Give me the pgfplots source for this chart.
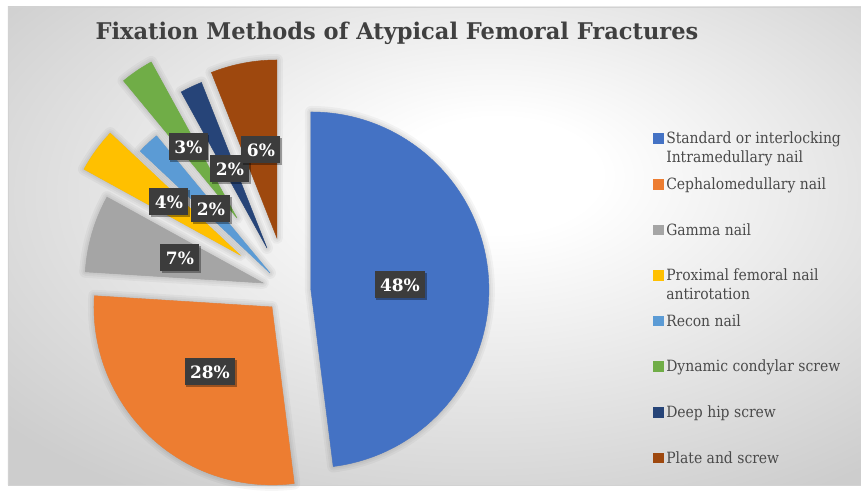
\documentclass[border=0pt]{standalone}
\usepackage{pgfplots}
\pgfplotsset{compat=1.18}
\usepackage{pgfplotstable}
\usepackage{fontspec}
\setmainfont{DejaVu Serif}
\newfontfamily\legfont{DejaVu Serif}[FakeStretch=0.9]
\newfontfamily\titfont{DejaVu Serif}[FakeStretch=0.98]
\newfontfamily\lblfont{DejaVu Serif}
\usetikzlibrary{shadows}

\definecolor{cBlue}{HTML}{4472C4}
\definecolor{cOrange}{HTML}{ED7D31}
\definecolor{cGray}{HTML}{A5A5A5}
\definecolor{cYellow}{HTML}{FFC000}
\definecolor{cRecon}{HTML}{5B9BD5}
\definecolor{cGreen}{HTML}{70AD47}
\definecolor{cNavy}{HTML}{264478}
\definecolor{cBrown}{HTML}{9E480E}
\definecolor{txtgray}{HTML}{404040}
\definecolor{legtxt}{HTML}{4A4A4A}
\definecolor{lblbg}{HTML}{3C3C3C}
\definecolor{bgout}{HTML}{CDCDCD}

\pgfdeclareradialshading{chartbg}{\pgfpoint{4bp}{8bp}}{color(0bp)=(white); color(6bp)=(white); color(36bp)=(bgout); color(80bp)=(bgout)}

% apex of each slice (x, y in px, y up), share in %, start angle (deg)
\pgfplotstableread{
x   y   value start
311 195 48    90
272 178 28    -82.8
263 202 7     -183.6
240 230 4     -208.8
270 212 2     -223.2
237 267 3     -230.4
267 237 2     -241.2
277 247 6     -248.4
}\slices

\pgfplotstableread{
x   y   lab
400 200 48\%
210 113 28\%
180 227 7\%
169 283 4\%
211 276 2\%
188.5 338 3\%
230 316 2\%
261 335 6\%
}\labels

\pgfplotsset{
  wedge data/.style={
    scatter, only marks, mark=*, mark size=0pt,
    mark options={draw=none, fill=none},
    visualization depends on={\thisrow{value} \as \sval},
    visualization depends on={\thisrow{start} \as \sstart},
    scatter/@post marker code/.code={},
  },
  pie shadow/.style={
    wedge data, forget plot,
    scatter/@pre marker code/.code={%
      \pgfmathsetmacro\sdelta{-3.6*\sval}%
      \foreach \lw in {12,8,4.5,1.5}{%
        \draw[black, opacity=0.035, line width=\lw pt, line join=round, fill=black, fill opacity=0.035, xshift=1.5pt, yshift=-1.5pt]
          (0pt,0pt) -- (\sstart:178pt) arc[start angle=\sstart, delta angle=\sdelta, radius=178pt] -- cycle;
      }%
    },
  },
  pie slice/.style 2 args={
    wedge data,
    restrict expr to domain={\coordindex}{#1:#1},
    scatter/@pre marker code/.code={%
      \pgfmathsetmacro\sdelta{-3.6*\sval}%
      \fill[#2] (0pt,0pt) -- (\sstart:178pt) arc[start angle=\sstart, delta angle=\sdelta, radius=178pt] -- cycle;
    },
    legend image code/.code={\fill[#2] (0pt,0.8pt) rectangle (9.5pt,10.3pt);},
  },
}
\newcommand\lentry[1]{\parbox[t]{190pt}{\strut #1}}

\begin{document}
\begin{tikzpicture}
\begin{axis}[
  x=1pt, y=1pt,
  xmin=0, xmax=861, ymin=0, ymax=485,
  hide axis, clip=false,
  legend style={at={(axis cs:653.5,354.3)}, anchor=north west,
    draw=none, fill=none, inner sep=0pt, outer sep=0pt,
    row sep=30.8pt, column sep=3pt,
    font=\legfont\fontsize{15.5}{19}\selectfont, text=legtxt,
    cells={anchor=base west}, nodes={inner sep=0pt}},
]
\shade[shading=chartbg, draw=gray!35] (axis cs:8,0) rectangle (axis cs:861,478);
\path (axis cs:0,0) rectangle (axis cs:861,485);

\addplot[pie shadow] table[x=x,y=y] {\slices};

\addplot[pie slice={0}{cBlue}] table[x=x,y=y] {\slices};
\addlegendentry{\lentry{Standard or interlocking\\Intramedullary nail}}
\addplot[pie slice={1}{cOrange}] table[x=x,y=y] {\slices};
\addlegendentry{\lentry{Cephalomedullary nail}}
\addplot[pie slice={2}{cGray}] table[x=x,y=y] {\slices};
\addlegendentry{\lentry{Gamma nail}}
\addplot[pie slice={3}{cYellow}] table[x=x,y=y] {\slices};
\addlegendentry{\lentry{Proximal femoral nail\\antirotation}}
\addplot[pie slice={4}{cRecon}] table[x=x,y=y] {\slices};
\addlegendentry{\lentry{Recon nail}}
\addplot[pie slice={5}{cGreen}] table[x=x,y=y] {\slices};
\addlegendentry{\lentry{Dynamic condylar screw}}
\addplot[pie slice={6}{cNavy}] table[x=x,y=y] {\slices};
\addlegendentry{\lentry{Deep hip screw}}
\addplot[pie slice={7}{cBrown}] table[x=x,y=y] {\slices};
\addlegendentry{\lentry{Plate and screw}}

\addplot[forget plot, draw=none, mark=none, nodes near coords,
  point meta=explicit symbolic, nodes near coords align={center},
  nodes near coords style={anchor=center, fill=lblbg, text=white,
    font=\lblfont\bfseries\fontsize{17}{20}\selectfont,
    inner xsep=5.5pt, inner ysep=0pt, minimum height=27pt,
    text height=12.4pt, text depth=0pt,
    drop shadow={shadow xshift=1.5pt, shadow yshift=-1.5pt, opacity=0.35, fill=black}}]
  table[x=x, y=y, meta=lab] {\labels};

\node[font=\titfont\bfseries\fontsize{23}{28}\selectfont, text=txtgray, anchor=base]
  at (axis cs:397,445) {Fixation Methods of Atypical Femoral Fractures};
\end{axis}
\end{tikzpicture}
\end{document}
